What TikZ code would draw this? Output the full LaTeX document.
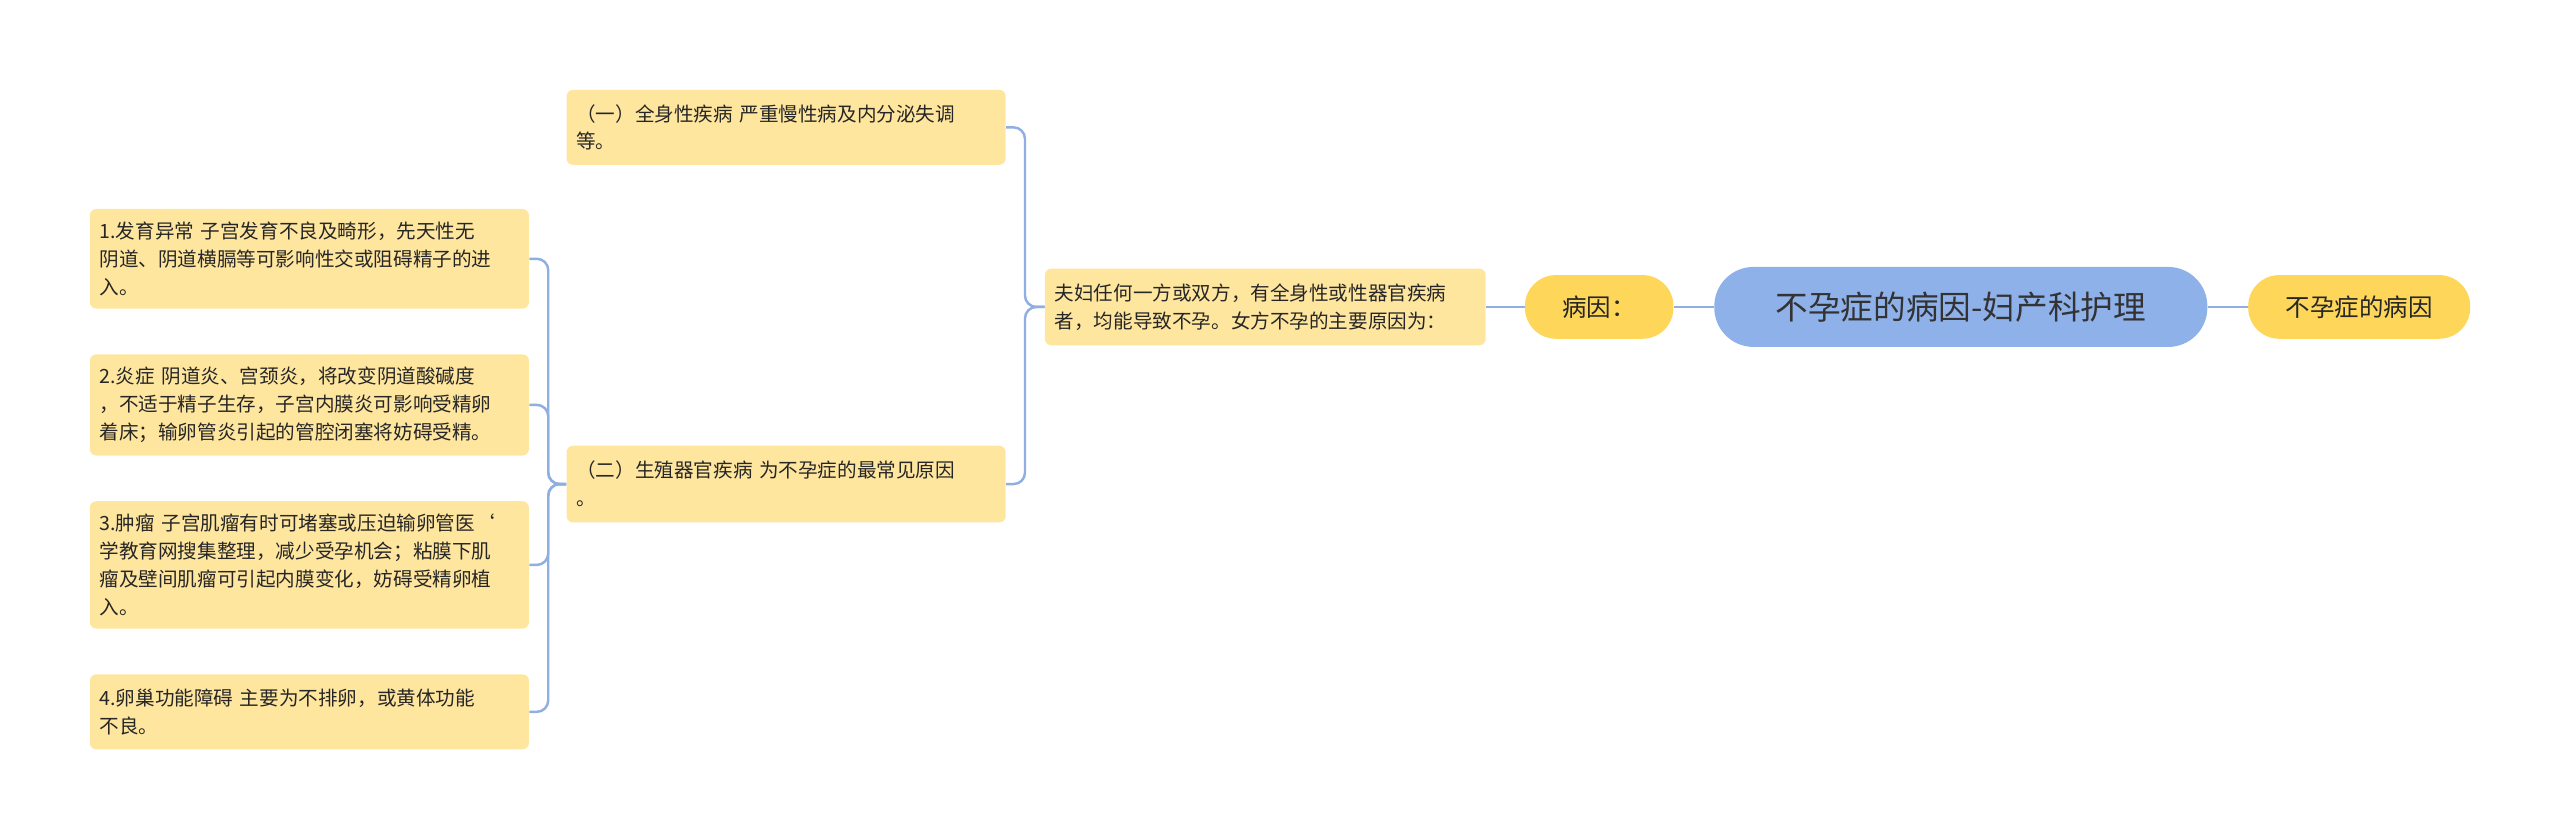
\documentclass[tikz,border=0pt]{standalone}
\usepackage{fontspec}
\setmainfont{Noto Sans CJK SC}
\begin{document}
\begin{tikzpicture}[x=1pt,y=-1pt,
  box/.style={fill=boxy,rounded corners=4pt,inner sep=0pt,align=left,font=\fontsize{12}{17}\selectfont,text=black!85},
  pill/.style={fill=pilly,rounded corners=19pt,inner sep=0pt,font=\fontsize{15}{18}\selectfont,text=black!85},
  link/.style={draw=linkc,line width=1.5pt,rounded corners=7pt}]
\definecolor{boxy}{HTML}{FFE69F}
\definecolor{pilly}{HTML}{FDD65A}
\definecolor{rootc}{HTML}{8FB1EA}
\definecolor{linkc}{HTML}{8FAEE2}
\useasboundingbox (0,0) rectangle (1568,514);
\node[fill=rootc,rounded corners=24pt,minimum width=302pt,minimum height=49pt,font=\fontsize{20}{24}\selectfont,text=black!80] (root) at (1201,188) {不孕症的病因-妇产科护理};
\node[pill,minimum width=136pt,minimum height=39pt] (r1) at (1445,188) {不孕症的病因};
\node[pill,minimum width=91pt,minimum height=39pt] (by) at (979.5,188) {病因：};
\node[box,minimum width=270pt,minimum height=47pt,text width=258pt] (fu) at (775,188) {夫妇任何一方或双方，有全身性或性器官疾病\\者，均能导致不孕。女方不孕的主要原因为：};
\node[box,minimum width=269pt,minimum height=46pt,text width=257pt] (yi) at (481.5,78) {（一）全身性疾病 严重慢性病及内分泌失调\\等。};
\node[box,minimum width=269pt,minimum height=47pt,text width=257pt] (er) at (481.5,296.5) {（二）生殖器官疾病 为不孕症的最常见原因\\。};
\node[box,minimum width=269pt,minimum height=61pt,text width=257pt] (a1) at (189.5,158.5) {1.发育异常 子宫发育不良及畸形，先天性无\\阴道、阴道横膈等可影响性交或阻碍精子的进\\入。};
\node[box,minimum width=269pt,minimum height=62pt,text width=257pt] (a2) at (189.5,248) {2.炎症 阴道炎、宫颈炎，将改变阴道酸碱度\\，不适于精子生存，子宫内膜炎可影响受精卵\\着床；输卵管炎引起的管腔闭塞将妨碍受精。};
\node[box,minimum width=269pt,minimum height=78pt,text width=257pt] (a3) at (189.5,346) {3.肿瘤 子宫肌瘤有时可堵塞或压迫输卵管医`\\学教育网搜集整理，减少受孕机会；粘膜下肌\\瘤及壁间肌瘤可引起内膜变化，妨碍受精卵植\\入。};
\node[box,minimum width=269pt,minimum height=46pt,text width=257pt] (a4) at (189.5,436) {4.卵巢功能障碍 主要为不排卵，或黄体功能\\不良。};
\draw[link] (root.east) -- (r1.west);
\draw[link] (root.west) -- (by.east);
\draw[link] (by.west) -- (fu.east);
\draw[link] (fu.west) -- ++(-12,0) |- (yi.east);
\draw[link] (fu.west) -- ++(-12,0) |- (er.east);
\draw[link] (er.west) -- ++(-11,0) |- (a1.east);
\draw[link] (er.west) -- ++(-11,0) |- (a2.east);
\draw[link] (er.west) -- ++(-11,0) |- (a3.east);
\draw[link] (er.west) -- ++(-11,0) |- (a4.east);
\end{tikzpicture}
\end{document}
